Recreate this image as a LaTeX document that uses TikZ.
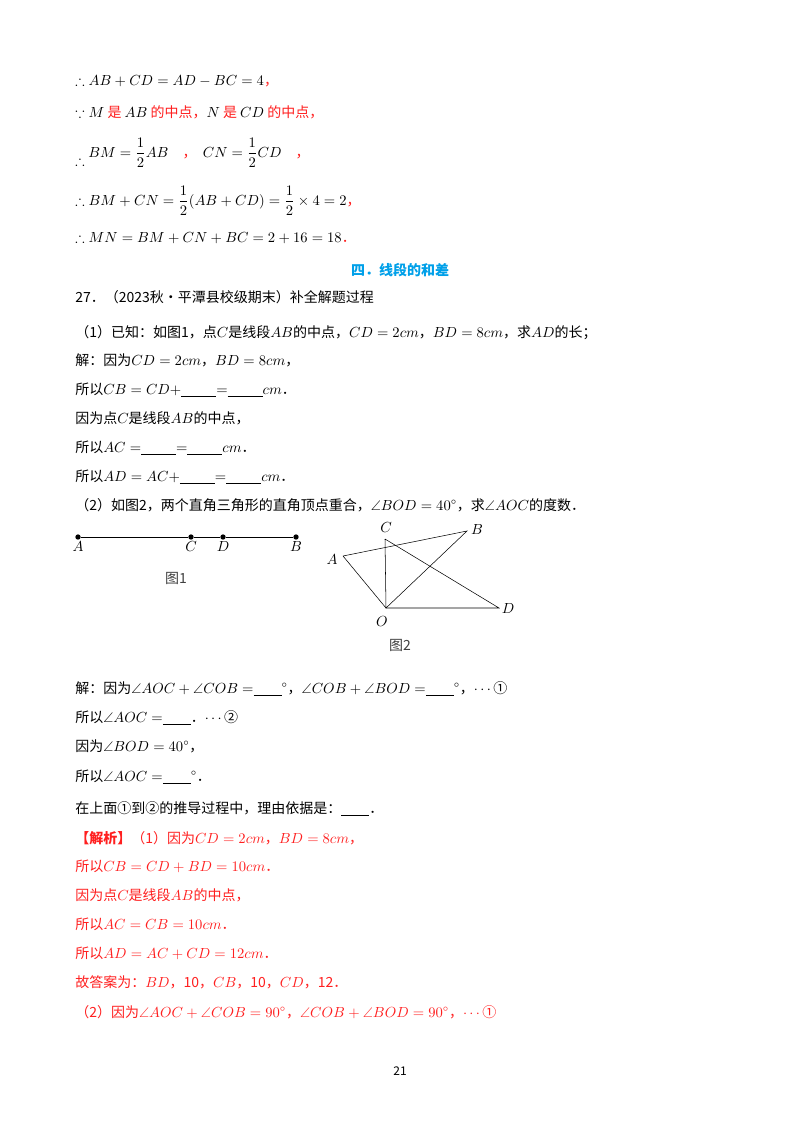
\documentclass[tikz,border=0pt]{standalone}
\usepackage{amsmath,amssymb}
\usepackage{fontspec}
\setmainfont{Noto Sans CJK SC}
\definecolor{rd}{HTML}{FF1F1F}
\definecolor{bl}{HTML}{00A0E9}
\newcommand\bk[1]{\underline{\hspace{#1}}}
\tikzset{t/.style={anchor=base west,inner sep=0pt,font=\fontsize{10.5}{12}\selectfont},
 dot/.style={circle,fill,inner sep=0pt,minimum size=4pt},
 lb/.style={inner sep=1pt,font=\fontsize{10.5}{12}\selectfont}}
\begin{document}
\begin{tikzpicture}[x=0.75pt,y=-0.75pt]
\useasboundingbox[fill=white] (0,0) rectangle (800,1132);
\node[t] (l1) at (75,85) {$\therefore AB+CD=AD-BC=4$\textcolor{rd}{，}};
\node[t] (l2) at (75,117) {$\because M$ \textcolor{rd}{是} $AB$ \textcolor{rd}{的中点，}$N$ \textcolor{rd}{是} $CD$ \textcolor{rd}{的中点，}};
\node[t] (l3) at (75,165) {$\therefore$};
\node[t] (l3b) at (88,157) {$BM=\dfrac12AB$\quad\textcolor{rd}{，}\ \ $CN=\dfrac12CD$\quad\textcolor{rd}{，}};
\node[t] (l4) at (75,205) {$\therefore BM+CN=\dfrac12(AB+CD)=\dfrac12\times4=2$\textcolor{rd}{，}};
\node[t] (l5) at (75,242) {$\therefore MN=BM+CN+BC=2+16=18$\textcolor{rd}{．}};
\node[t,anchor=base,text=bl,font=\fontsize{10.5}{12}\selectfont\bfseries] (h) at (400,275) {四．线段的和差};
\node[t] (p1) at (75,302) {27．（2023秋•平潭县校级期末）补全解题过程};
\node[t] (p2) at (75,337) {（1）已知：如图1，点$C$是线段$AB$的中点，$CD=2cm$，$BD=8cm$，求$AD$的长；};
\node[t] (p3) at (75,365) {解：因为$CD=2cm$，$BD=8cm$，};
\node[t] (p4) at (75,394) {所以$CB=CD+$\bk{2.5em}$=$\bk{2.5em}$cm$．};
\node[t] (p5) at (75,423) {因为点$C$是线段$AB$的中点，};
\node[t] (p6) at (75,452) {所以$AC=$\bk{2.5em}$=$\bk{2.5em}$cm$．};
\node[t] (p7) at (75,481) {所以$AD=AC+$\bk{2.5em}$=$\bk{2.5em}$cm$．};
\node[t] (p8) at (75,510) {（2）如图2，两个直角三角形的直角顶点重合，$\angle BOD=40^\circ$，求$\angle AOC$的度数．};
% figure 1
\node[dot] (A1) at (78,537) {}; \node[dot] (C1) at (191,537) {};
\node[dot] (D1) at (223,537) {}; \node[dot] (B1) at (296,537) {};
\draw (A1)--(C1)--(D1)--(B1);
\node[lb,below] at (A1.south) {$A$}; \node[lb,below] at (C1.south) {$C$};
\node[lb,below] at (D1.south) {$D$}; \node[lb,below] at (B1.south) {$B$};
\node[lb,text=black!75] (f1) at (176,578) {图1};
% figure 2
\coordinate (A2) at (343,556); \coordinate (B2) at (467,531); \coordinate (C2) at (385,539);
\coordinate (O2) at (386,608); \coordinate (D2) at (499,608);
\draw (A2)--(B2)--(O2)--(A2); \draw (C2)--(O2)--(D2)--(C2);
\node[lb] at (386,528) {$C$}; \node[lb] at (477,530) {$B$}; \node[lb] at (332,560) {$A$};
\node[lb] at (382,622) {$O$}; \node[lb] at (508,609) {$D$};
\node[lb,text=black!75] (f2) at (400,645) {图2};
\node[t] (q1) at (75,693) {解：因为$\angle AOC+\angle COB=$\bk{2em}$^\circ$，$\angle COB+\angle BOD=$\bk{2em}$^\circ$，$\cdots$①};
\node[t] (q2) at (75,722) {所以$\angle AOC=$\bk{2em}．$\cdots$②};
\node[t] (q3) at (75,751) {因为$\angle BOD=40^\circ$，};
\node[t] (q4) at (75,781) {所以$\angle AOC=$\bk{2em}$^\circ$．};
\node[t] (q5) at (75,813) {在上面①到②的推导过程中，理由依据是：\bk{2em}．};
\begin{scope}[every node/.append style={text=rd}]
\node[t] (r1) at (75,843) {\textbf{【解析】}（1）因为$CD=2cm$，$BD=8cm$，};
\node[t] (r2) at (75,871) {所以$CB=CD+BD=10cm$．};
\node[t] (r3) at (75,900) {因为点$C$是线段$AB$的中点，};
\node[t] (r4) at (75,929) {所以$AC=CB=10cm$．};
\node[t] (r5) at (75,958) {所以$AD=AC+CD=12cm$．};
\node[t] (r6) at (75,987) {故答案为：$BD$，10，$CB$，10，$CD$，12．};
\node[t] (r7) at (75,1017) {（2）因为$\angle AOC+\angle COB=90^\circ$，$\angle COB+\angle BOD=90^\circ$，$\cdots$①};
\end{scope}
\node[t,anchor=base,font=\fontsize{9}{10}\selectfont] (pg) at (400,1075) {21};
\end{tikzpicture}
\end{document}
